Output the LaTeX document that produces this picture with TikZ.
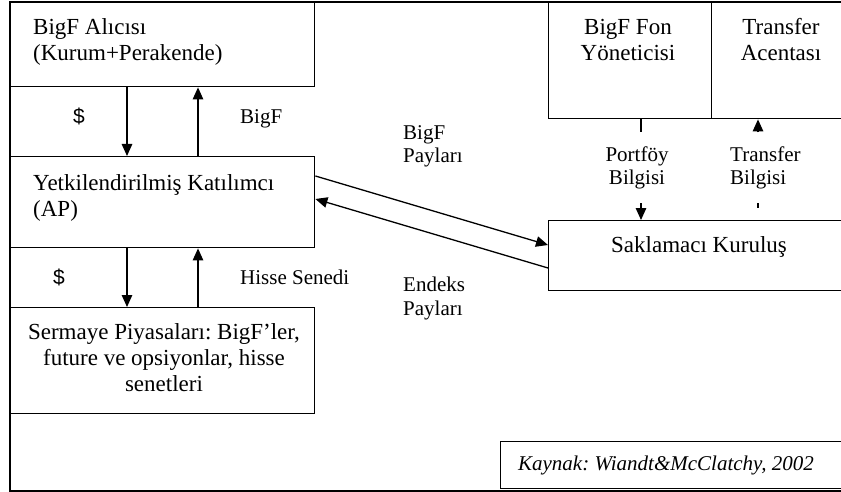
\documentclass[tikz,border=0pt]{standalone}
\usepackage{fontspec}
\setmainfont{Liberation Serif}
\newfontfamily\arialf{Liberation Sans}
\usetikzlibrary{arrows.meta}
\frenchspacing
\begin{document}
\begin{tikzpicture}[x=1pt,y=-1pt,
  box/.style={draw, line width=1.4pt, inner sep=0, anchor=north west},
  txt/.style={inner sep=0, font=\fontsize{23}{26}\selectfont},
  lbl/.style={inner sep=0, font=\fontsize{21}{23.5}\selectfont},
  arr/.style={line width=1.3pt, -{Triangle[length=12pt,width=10.5pt]}},
  ln/.style={line width=1.3pt}]
\useasboundingbox (0,0) rectangle (841,492);
% outer frame
\draw[line width=1.4pt] (870,2) -- (10,2) -- (10,491) -- (870,491);
% boxes
\node[box, minimum width=304pt, minimum height=84pt] (alici) at (10,2) {};
\node[box, minimum width=304pt, minimum height=91pt] (ap) at (10,156) {};
\node[box, minimum width=304pt, minimum height=106pt] (serm) at (10,307) {};
\node[box, minimum width=163pt, minimum height=116pt] (fon) at (548,2) {};
\node[box, minimum width=159pt, minimum height=116pt] (ta) at (711,2) {};
\node[box, minimum width=322pt, minimum height=70pt] (sak) at (548,220) {};
\node[box, minimum width=370pt, minimum height=47pt] (kay) at (500,441) {};
% texts (base anchor = baseline of the last line)
\node[txt, anchor=base west, align=left] (t1) at (33,61) {BigF Alıcısı\\(Kurum+Perakende)};
\node[txt, anchor=base west, align=left] (t2) at (33,216) {Yetkilendirilmiş Katılımcı\\(AP)};
\node[txt, anchor=base, align=center] (t3) at (164,391) {Sermaye Piyasaları: BigF’ler,\\future ve opsiyonlar, hisse\\senetleri};
\node[txt, anchor=base, align=center] (t4) at (628,61) {BigF Fon\\Yöneticisi};
\node[txt, anchor=base, align=center] (t5) at (781,61) {Transfer\\Acentası};
\node[txt, anchor=base] (t6) at (699,252) {Saklamacı Kuruluş};
\node[txt, anchor=base, font=\fontsize{21}{24}\selectfont\itshape] (t7) at (666,470) {Kaynak: Wiandt\&McClatchy, 2002};
% labels
\node[lbl, anchor=base, font=\fontsize{21}{24}\arialf] (d1) at (79,124) {\$};
\node[lbl, anchor=base west] (l1) at (240,124) {BigF};
\node[lbl, anchor=base, font=\fontsize{21}{24}\arialf] (d2) at (59,284) {\$};
\node[lbl, anchor=base west] (l2) at (240,284) {Hisse Senedi};
\node[lbl, anchor=base west, align=left] (l3) at (403,163) {BigF\\Payları};
\node[lbl, anchor=base west, align=left] (l4) at (403,315) {Endeks\\Payları};
\node[lbl, anchor=base, align=center] (l5) at (637,185) {Portföy\\Bilgisi};
\node[lbl, anchor=base west, align=left] (l6) at (730,185) {Transfer\\Bilgisi};
% vertical arrows
\draw[arr] ([xshift=117pt]alici.south west) -- ([xshift=117pt]ap.north west);
\draw[arr] ([xshift=188pt]ap.north west) -- ([xshift=188pt]alici.south west);
\draw[arr] ([xshift=117pt]ap.south west) -- ([xshift=117pt]serm.north west);
\draw[arr] ([xshift=188pt]serm.north west) -- ([xshift=188pt]ap.south west);
% diagonal arrows
\draw[arr] ([yshift=-20pt]ap.north east) -- ([yshift=-25pt]sak.north west);
\draw[arr] ([yshift=-48pt]sak.north west) -- ([yshift=-43pt]ap.north east);
% Portfoy Bilgisi
\draw[ln] ([xshift=93pt]fon.south west) -- ++(0,13);
\draw[arr] ([xshift=93pt,yshift=17pt]sak.north west) -- ([xshift=93pt]sak.north west);
% Transfer Bilgisi
\draw[arr] ([xshift=47pt,yshift=-13pt]ta.south west) -- ([xshift=47pt]ta.south west);
\draw[ln] ([xshift=210pt,yshift=17pt]sak.north west) -- ++(0,5);
\end{tikzpicture}
\end{document}
